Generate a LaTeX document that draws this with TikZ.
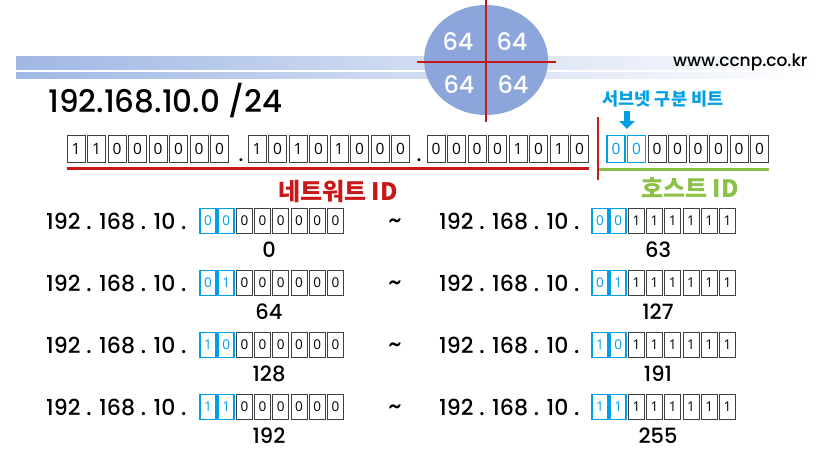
\documentclass[tikz,border=0pt]{standalone}
\usepackage{fontspec}
\setmainfont{Poppins}
\IfFontExistsTF{Poppins Medium}{\newfontfamily\midfont{Poppins Medium}}{\newfontfamily\midfont[FakeBold=1.5]{Poppins}}
\newfontfamily\korfont{Noto Sans CJK KR}
\newfontfamily\bitfont{Open Sans}
\usetikzlibrary{arrows.meta}
\definecolor{bannerblue}{RGB}{160,184,228}
\definecolor{cellblue}{RGB}{140,166,220}
\definecolor{netred}{RGB}{200,24,24}
\definecolor{hostgreen}{RGB}{140,192,70}
\definecolor{subblue}{RGB}{0,160,230}
\tikzset{
  bit/.style={draw=black!75, line width=0.7pt, minimum width=18pt, minimum height=27pt, inner sep=0pt, font=\bitfont\fontsize{15.5}{15.5}\selectfont},
  subbit/.style={bit, draw=subblue, line width=1.6pt, text=subblue},
  sbit/.style={bit, minimum width=16pt, minimum height=25pt, font=\bitfont\fontsize{13.5}{13.5}\selectfont},
  ssubbit/.style={sbit, draw=subblue, line width=1.6pt, text=subblue},
  addr/.style={font=\midfont\fontsize{22}{22}\selectfont, anchor=west, inner sep=0pt},
  dec/.style={font=\midfont\fontsize{21}{21}\selectfont, inner sep=0pt},
  quarter/.style={text=white, font=\midfont\fontsize{24}{24}\selectfont, inner sep=0pt}
}

\begin{document}
\begin{tikzpicture}[x=1pt,y=-1pt]
		\useasboundingbox (0,0) rectangle (817,460);
		%%%%% START %%%%%
		
		\shade[left color=bannerblue, right color=white] (16,57) rectangle (817,70);
		\shade[left color=bannerblue, right color=white] (16,73) rectangle (817,79);
		\node[font=\midfont\fontsize{17}{17}\selectfont, anchor=east] (web) at (811,62) {www.ccnp.co.kr};
		
		\fill[cellblue] (486,60) ellipse [x radius=62pt, y radius=55pt];
		\node[quarter] (q1) at (458,42) {64};
		\node[quarter] (q2) at (512,42) {64};
		\node[quarter] (q3) at (459,85) {64};
		\node[quarter] (q4) at (513,85) {64};
		\coordinate (vtop) at (486,0);
		\coordinate (vbot) at (486,122);
		\coordinate (hl) at (417,62);
		\coordinate (hr) at (556,62);
		\draw[netred, line width=2.5pt] (vtop) -- (vbot);
		\draw[netred, line width=2.5pt] (hl) -- (hr);
		
		\node[font=\midfont\fontsize{31}{31}\selectfont, anchor=base west, inner sep=0pt] (net) at (48,112) {192.168.10.0 /24};
		
		\foreach \b [count=\i from 0] in {1,1,0,0,0,0,0,0}
			\node[bit] (a\i) at (76+\i*20.5,149) {\b};
		\foreach \b [count=\i from 0] in {1,0,1,0,1,0,0,0}
			\node[bit] (b\i) at (257+\i*20.5,149) {\b};
		\foreach \b [count=\i from 0] in {0,0,0,0,1,0,1,0}
			\node[bit] (c\i) at (436+\i*20.5,149) {\b};
		\node[subbit] (d0) at (616,149) {0};
		\node[subbit] (d1) at (636.5,149) {0};
		\foreach \i in {2,...,7}
			\node[bit] (d\i) at (616+\i*20.5,149) {0};
		\node[font=\midfont\fontsize{20}{20}\selectfont, anchor=base, inner sep=0pt] (dot1) at (241,161) {.};
		\node[font=\midfont\fontsize{20}{20}\selectfont, anchor=base, inner sep=0pt] (dot2) at (419,161) {.};
		
		\draw[netred, line width=3pt] (a0.south west) ++(0,6) coordinate (rl) -- (rl -| c7.east);
		\draw[netred, line width=2.5pt] (598,117) -- (598,180);
		\draw[hostgreen, line width=3pt] (d0.south west) ++(-7,6) coordinate (gl) -- (gl -| d7.east);
		\node[text=netred, font=\korfont\bfseries\fontsize{24}{24}\selectfont] (netid) at (338,191) {네트워트 ID};
		\node[text=hostgreen, font=\korfont\bfseries\fontsize{24}{24}\selectfont] (hostid) at (690,188) {호스트 ID};
		\node[text=subblue, font=\korfont\bfseries\fontsize{17.5}{17.5}\selectfont] (subnet) at (663,99) {서브넷 구분 비트};
		\coordinate (arr) at (627,129);
		\draw[subblue, line width=6pt, -{Triangle[width=15pt,length=8pt]}] (arr |- subnet.south) -- (arr);
		
		\foreach \r/\p/\lo/\hi [count=\k from 0] in {0/0/0/63, 0/1/64/127, 1/0/128/191, 1/1/192/255} {
			\pgfmathsetmacro{\y}{221+62*\k}
			\node[addr] (l\k) at (46,\y) {192 . 168 . 10 .};
			\node[ssubbit] (lb\k-0) at (208,\y) {\r};
			\node[ssubbit] (lb\k-1) at (226.2,\y) {\p};
			\foreach \j in {2,...,7}
				\node[sbit] (lb\k-\j) at (208+\j*18.2,\y) {0};
			\node[dec] (lo\k) at (269,\y+29) {\lo};
			\node[font=\midfont\fontsize{24}{24}\selectfont] (t\k) at (395,\y+3) {\textasciitilde};
			\node[addr] (r\k) at (439,\y) {192 . 168 . 10 .};
			\node[ssubbit] (rb\k-0) at (600,\y) {\r};
			\node[ssubbit] (rb\k-1) at (618.2,\y) {\p};
			\foreach \j in {2,...,7}
				\node[sbit] (rb\k-\j) at (600+\j*18.2,\y) {1};
			\node[dec] (hi\k) at (658,\y+29) {\hi};
		}
		
		%%%%% END %%%%%
\end{tikzpicture}
\end{document}
